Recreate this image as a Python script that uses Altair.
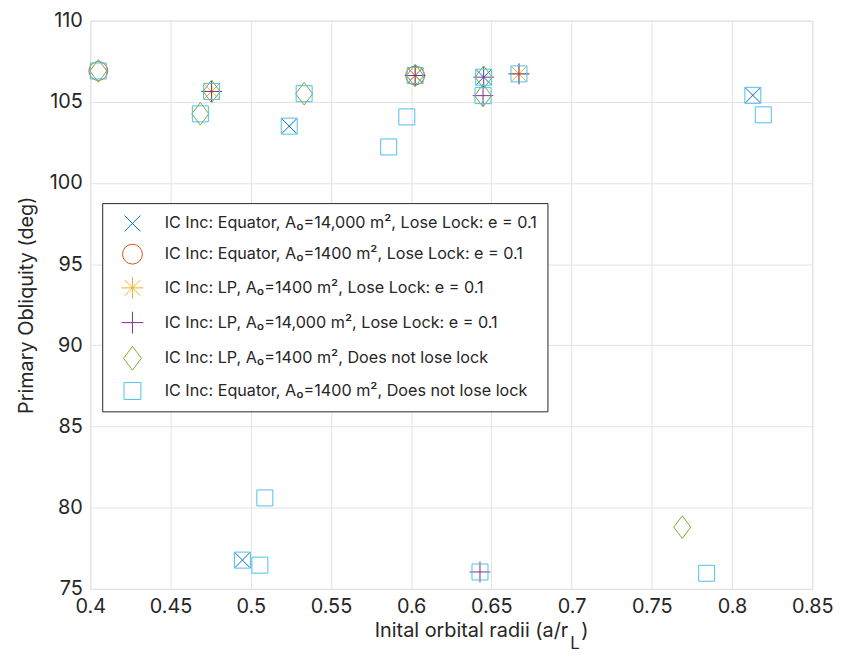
import altair as alt
import pandas as pd

# ---- series labels, colours, marker shapes ----
series_names = [
    "IC Inc: Equator, A₀=14,000 m², Lose Lock: e = 0.1",
    "IC Inc: Equator, A₀=1400 m², Lose Lock: e = 0.1",
    "IC Inc: LP, A₀=1400 m², Lose Lock: e = 0.1",
    "IC Inc: LP, A₀=14,000 m², Lose Lock: e = 0.1",
    "IC Inc: LP, A₀=1400 m², Does not lose lock",
    "IC Inc: Equator, A₀=1400 m², Does not lose lock",
]
series_colors = ["#0072BD", "#D95319", "#EDB120", "#7E2F8E", "#77AC30", "#4DBEEE"]
series_shapes = [
    "M-0.8,-0.8L0.8,0.8M-0.8,0.8L0.8,-0.8",
    "circle",
    "M-1.1,0L1.1,0M0,-1.1L0,1.1M-0.78,-0.78L0.78,0.78M-0.78,0.78L0.78,-0.78",
    "M-1.1,0L1.1,0M0,-1.1L0,1.1",
    "M0,-1.2L0.9,0L0,1.2L-0.9,0Z",
    "M-0.85,-0.85L0.85,-0.85L0.85,0.85L-0.85,0.85Z",
]

# ---- data ----
eq14_lose_x = [0.6025, 0.6452, 0.524, 0.813, 0.4948]
eq14_lose_y = [106.62, 106.52, 103.5, 105.4, 76.77]

eq1400_lose_x = [0.405, 0.6025]
eq1400_lose_y = [106.9, 106.62]

lp1400_lose_x = [0.4756, 0.6025, 0.6672]
lp1400_lose_y = [105.64, 106.62, 106.72]

lp14_lose_x = [0.4756, 0.6025, 0.6452, 0.6448, 0.6672, 0.6429]
lp14_lose_y = [105.64, 106.62, 106.52, 105.38, 106.72, 76.04]

lp1400_keep_x = [0.405, 0.4686, 0.4756, 0.5333, 0.6025, 0.6452, 0.6448, 0.769]
lp1400_keep_y = [106.9, 104.26, 105.64, 105.5, 106.62, 106.52, 105.38, 78.8]

eq1400_keep_x = [0.405, 0.4686, 0.4756, 0.5333, 0.524, 0.6025, 0.6452, 0.6448,
                 0.6672, 0.5973, 0.586, 0.813, 0.8195, 0.5088, 0.4948, 0.5057,
                 0.6429, 0.7842]
eq1400_keep_y = [106.9, 104.26, 105.64, 105.5, 103.5, 106.62, 106.52, 105.38,
                 106.72, 104.07, 102.22, 105.4, 104.2, 80.6, 76.77, 76.46,
                 76.04, 75.96]

x_ticks = [0.4, 0.45, 0.5, 0.55, 0.6, 0.65, 0.7, 0.75, 0.8, 0.85]
y_ticks = [75, 80, 85, 90, 95, 100, 105, 110]

all_x = [eq14_lose_x, eq1400_lose_x, lp1400_lose_x, lp14_lose_x, lp1400_keep_x, eq1400_keep_x]
all_y = [eq14_lose_y, eq1400_lose_y, lp1400_lose_y, lp14_lose_y, lp1400_keep_y, eq1400_keep_y]

rows = []
for name, xs, ys in zip(series_names, all_x, all_y):
    for xv, yv in zip(xs, ys):
        rows.append({"series": name, "x": xv, "y": yv})
df = pd.DataFrame(rows)

FONT = "Inter"
TXT = "#262626"

legend = alt.Legend(
    title=None, orient="none", legendX=12, legendY=184,
    fillColor="white", strokeColor=TXT, padding=10,
    rowPadding=8, symbolSize=400, symbolStrokeWidth=1, symbolOffset=10,
    labelOffset=22, labelFontSize=16.3, labelFont=FONT, labelColor=TXT,
    labelLimit=600, symbolFillColor="transparent",
)

points = alt.Chart(df).mark_point(filled=False, size=360, strokeWidth=1, opacity=1).encode(
    x=alt.X("x:Q", scale=alt.Scale(domain=[0.4, 0.85], nice=False, zero=False),
            axis=alt.Axis(values=x_ticks, format="~g", title=None, grid=True,
                          labelFontSize=20, labelFont=FONT, labelColor=TXT,
                          labelPadding=8, ticks=False, domain=False,
                          gridColor="#e3e3e3", labelFlush=False)),
    y=alt.Y("y:Q", scale=alt.Scale(domain=[75, 110], nice=False, zero=False),
            axis=alt.Axis(values=y_ticks, title="Primary Obliquity (deg)", grid=True,
                          labelFontSize=20, labelFont=FONT, labelColor=TXT,
                          labelPadding=8, ticks=False, domain=False,
                          titleFontSize=20, titleFont=FONT, titleColor=TXT,
                          titleFontWeight="normal", titlePadding=13,
                          gridColor="#e3e3e3")),
    color=alt.Color("series:N", scale=alt.Scale(domain=series_names, range=series_colors), legend=legend),
    shape=alt.Shape("series:N", scale=alt.Scale(domain=series_names, range=series_shapes), legend=legend),
)

one = alt.Data(values=[{}])
t1 = alt.Chart(one).mark_text(align="right", baseline="alphabetic", font=FONT, fontSize=20, color=TXT).encode(
    x=alt.value(482), y=alt.value(622), text=alt.value("Inital orbital radii (a/r"))
t2 = alt.Chart(one).mark_text(align="left", baseline="alphabetic", font=FONT, fontSize=17, color=TXT).encode(
    x=alt.value(484), y=alt.value(634), text=alt.value("L"))
t3 = alt.Chart(one).mark_text(align="left", baseline="alphabetic", font=FONT, fontSize=20, color=TXT).encode(
    x=alt.value(495), y=alt.value(622), text=alt.value(")"))

chart = alt.layer(points, t1, t2, t3).properties(
    width=728, height=573,
    padding={"left": 8, "top": 0, "right": 5, "bottom": 5},
).configure_view(stroke=TXT, strokeWidth=1).configure(background="white")

chart.save("out.html", embed_options={"renderer": "svg", "actions": False})
